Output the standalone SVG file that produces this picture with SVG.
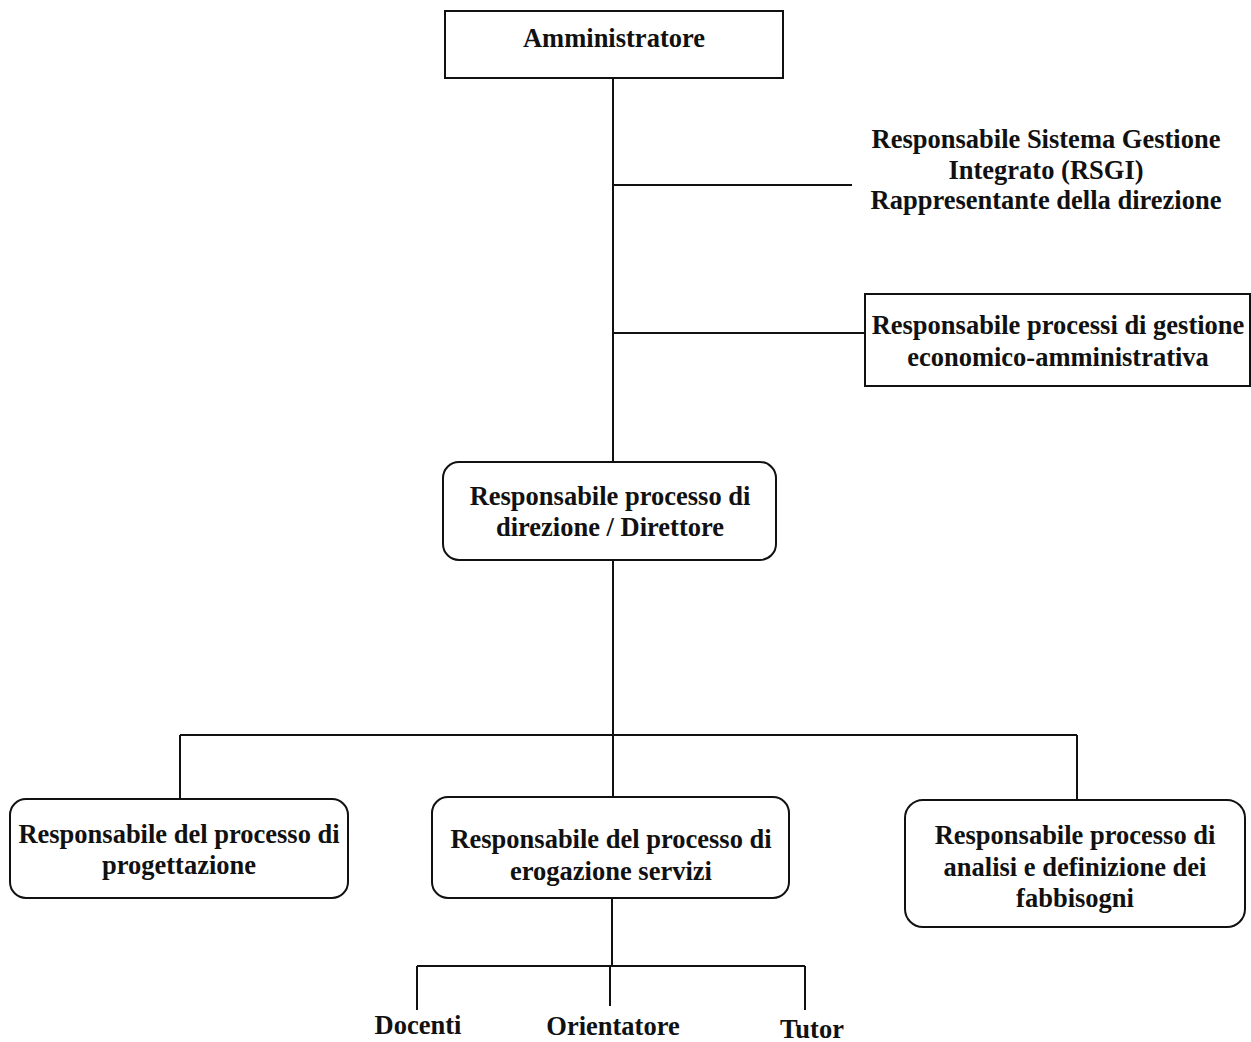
<svg xmlns="http://www.w3.org/2000/svg" width="1251" height="1042" viewBox="0 0 1251 1042">
<style>
text{font-family:"Liberation Serif","Times New Roman",serif;font-weight:bold;font-size:26.5px;fill:#111;text-anchor:middle}
.box{fill:#fff;stroke:#111;stroke-width:2}
.ln{stroke:#111;stroke-width:2;fill:none}
</style>
<rect width="1251" height="1042" fill="#fff"/>
<g id="connectors">
<path class="ln" d="M613 78V462M613 185H852M613 333H865"/>
<path class="ln" d="M613 560V735M180 735H1077M180 735V799M613 735V797M1077 735V800"/>
<path class="ln" d="M612 898V966M417 966H805M417 966V1010M610 966V1006M805 966V1010"/>
</g>
<g id="amministratore">
<rect class="box" x="445" y="11" width="338" height="67"/>
<text x="614" y="47">Amministratore</text>
</g>
<g id="rsgi">
<text x="1046" y="148">Responsabile Sistema Gestione</text>
<text x="1046" y="179">Integrato (RSGI)</text>
<text x="1046" y="209">Rappresentante della direzione</text>
</g>
<g id="economico">
<rect class="box" x="865" y="294" width="385" height="92"/>
<text x="1058" y="334">Responsabile processi di gestione</text>
<text x="1058" y="366">economico-amministrativa</text>
</g>
<g id="direttore">
<rect class="box" x="443" y="462" width="333" height="98" rx="16"/>
<text x="610" y="505">Responsabile processo di</text>
<text x="610" y="536">direzione / Direttore</text>
</g>
<g id="progettazione">
<rect class="box" x="10" y="799" width="338" height="99" rx="16"/>
<text x="179" y="843">Responsabile del processo di</text>
<text x="179" y="874">progettazione</text>
</g>
<g id="erogazione">
<rect class="box" x="432" y="797" width="357" height="101" rx="16"/>
<text x="611" y="848">Responsabile del processo di</text>
<text x="611" y="880">erogazione servizi</text>
</g>
<g id="fabbisogni">
<rect class="box" x="905" y="800" width="340" height="127" rx="18"/>
<text x="1075" y="844">Responsabile processo di</text>
<text x="1075" y="876">analisi e definizione dei</text>
<text x="1075" y="907">fabbisogni</text>
</g>
<g id="docenti"><text x="418" y="1034">Docenti</text></g>
<g id="orientatore"><text x="613" y="1035">Orientatore</text></g>
<g id="tutor"><text x="812" y="1038">Tutor</text></g>
</svg>
